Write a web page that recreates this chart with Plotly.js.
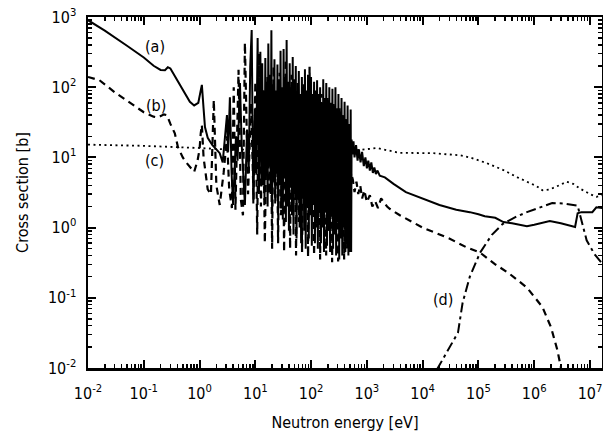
<!DOCTYPE html>
<html><head><meta charset="utf-8">
<script src="https://cdn.plot.ly/plotly-3.0.1.min.js"></script>
<style>html,body{margin:0;padding:0;background:#fff}#chart{width:603px;height:437px}</style>
</head><body><div id="chart"></div>
<script>
// (a) solid curve
var energyA = [0.01,0.02,0.05,0.1,0.15,0.2,0.24,0.27,0.3,0.35,0.45,0.6,0.67,0.8,0.95,1.05,1.1,1.18,1.25,1.4,1.7,2.0,2.3,
  2.6,2.9,3.1,3.25,3.5,3.75,4.0,4.5,4.8,5.3,5.7,6.5,7.1,7.6,8.1,8.6,9.2,9.8,10.3,11.0,11.6,12.3,12.9,
  13.3,13.7,14.2,14.6,15.1,15.6,16.1,16.6,17.1,17.7,18.2,18.8,19.4,20.0,20.7,21.3,22.0,22.7,23.4,24.2,
  24.9,25.7,26.6,27.4,28.3,29.2,30.1,31.1,32.1,33.1,34.2,35.3,36.4,37.6,38.8,40.0,41.3,42.6,44.0,45.4,
  46.8,48.3,49.9,51.5,53.1,54.8,56.6,58.4,60.2,62.2,64.2,66.2,68.3,70.5,72.8,75.1,77.5,80.0,82.6,85.2,
  87.9,90.8,93.7,96.6,99.7,103,106,110,113,117,120,124,128,132,137,141,145,150,155,160,165,170,176,181,
  187,193,199,206,212,219,226,233,241,248,256,264,273,281,290,300,309,319,329,340,351,362,374,386,398,
  411,424,437,451,466,481,496,512,522,
  532,550,575,600,640,680,720,770,820,880,940,1000,1060,1130,1200,1280,1360,1450,1550,1700,2100,3000,5000,
  1e4,2e4,4e4,5e4,7e4,1e5,1.3e5,2e5,2.8e5,4e5,7.4e5,1e6,1.9e6,3e6,5.4e6,6e6,7e6,1.1e7,1.3e7,1.7e7];
var sigmaA = [900,640,390,265,202,176,175,192,185,150,102,70,62,55,60,90,108,50,27,19,15,13,11.5,
  8.5,25,40,12,72,6,2.1,20,9,115,15,2.1,25,6,200,650,2.2,40,6,500,3,320,4,
  220,4,90,2.5,260,6,120,2,420,8,150,3,650,1.6,110,5,250,2.2,90,6,
  210,1.5,130,4,330,2,100,1.3,350,5,140,1.2,470,3,120,0.9,220,4,100,1.5,
  270,0.8,130,3,200,0.7,90,2.5,170,1,80,0.6,140,3,100,0.9,180,0.5,90,2,
  150,0.7,75,1.5,140,0.55,80,2.5,120,0.6,70,1.2,126,0.5,80,2,100,0.6,60,1,130,0.45,70,1.8,
  115,0.55,65,0.9,100,0.45,60,1.5,95,0.5,55,0.8,100,0.4,50,1.2,80,0.35,45,0.7,70,0.4,40,1,62,
  0.45,35,0.6,55,0.4,30,0.5,48,0.45,
  18,11,17,10,15,9,13,8.5,12,7.5,10,7,9,6.5,8.5,6,7.2,5.8,6.5,5.5,5.2,4.2,3.2,
  2.6,2.1,1.8,1.75,1.66,1.55,1.45,1.38,1.2,1.15,1.05,1.1,1.24,1.15,1.02,1.6,1.66,1.66,1.95,1.9];

// (b) dashed curve
var energyB = [0.01,0.016,0.03,0.05,0.1,0.15,0.18,0.23,0.26,0.3,0.36,0.41,0.5,0.59,0.8,0.92,1.0,1.05,1.1,1.18,1.3,1.4,
  1.6,1.8,2.0,2.3,2.7,3.1,3.4,3.8,4.1,4.4,5.0,5.5,6.0,6.5,7.4,8.4,9.3,
  10.0,10.8,11.6,12.6,13.7,14.8,16.5,17.6,18.8,20.0,21.2,22.6,24.0,25.6,27.2,29.0,30.8,32.8,34.9,37.1,39.5,42.0,
  44.6,47.5,50.5,53.7,57.1,60.8,64.7,68.8,73.2,77.9,82.9,88.2,93.8,99.8,106,113,120,128,136,145,154,164,175,186,
  198,211,224,238,254,270,287,305,325,345,367,391,416,442,470,500,
  520,560,600,650,700,760,820,900,1000,1130,1250,1400,1580,1800,2070,2300,2600,3900,
  1e4,3e4,6.2e4,1.07e5,2e5,3.6e5,7.4e5,1.4e6,2e6,2.6e6,3.1e6];
var sigmaB = [140,126,85,64,44,38,37,41,40,30,22,14,10,8.3,6.2,9,13,22,29,10,5,3.5,
  3,66,4,2.1,6,20,3.5,1.9,100,1.8,177,2.5,1.5,430,3.0,60,2.5,
  120,0.8,300,2,90,0.6,150,3,60,0.5,200,2.5,80,0.6,160,1.5,70,0.45,250,2,90,0.5,
  150,1.5,60,0.4,120,1.2,70,0.45,110,1.5,60,0.38,195,1.5,70,0.4,90,1,60,0.35,80,1.2,55,0.4,
  70,0.9,50,0.32,60,1,45,0.33,50,0.8,40,0.35,35,0.5,30,0.45,
  6,4.8,3.2,4.5,3.0,4.0,2.6,3.4,2.3,2.9,2.0,2.4,1.9,2.6,2.2,2.0,1.84,1.5,
  1.0,0.7,0.52,0.44,0.3,0.22,0.14,0.074,0.038,0.018,0.009];

// (c) dotted curve
var energyC = [0.01,0.1,1,3,10,30,100,300,520,690,1000,1500,3900,1.5e4,4.7e4,7e4,1.4e5,2.8e5,5e5,1.1e6,1.4e6,1.9e6,2.8e6,3.8e6,5e6,6.6e6,1e7,1.3e7,1.7e7];
var sigmaC = [15.2,14.6,13.6,13,12.8,12.6,12.5,12.6,13.5,12.7,13.2,13.6,11.6,11.5,10.7,10,8.3,6.6,5.2,3.9,3.4,3.5,4.0,4.5,4.2,3.6,3.0,2.75,2.9];

// (d) dash-dot curve
var energyD = [1.8e4,4.3e4,5.2e4,7e4,1.07e5,1.74e5,2.7e5,4.5e5,7.4e5,1.3e6,2.1e6,3.5e6,5.4e6,6e6,8.7e6,1.2e7,1.7e7];
var sigmaD = [0.0095,0.032,0.085,0.2,0.44,0.79,1.12,1.4,1.66,1.95,2.24,2.2,2.1,2.05,0.66,0.42,0.3];

var curveLabels = ['(a)','(b)','(c)','(d)'];
var xTickVals = [1e-2,1e-1,1,1e1,1e2,1e3,1e4,1e5,1e6,1e7];
var xTickText = ['10<sup>-2</sup>','10<sup>-1</sup>','10<sup>0</sup>','10<sup>1</sup>','10<sup>2</sup>','10<sup>3</sup>','10<sup>4</sup>','10<sup>5</sup>','10<sup>6</sup>','10<sup>7</sup>'];
var yTickVals = [1e-2,1e-1,1,1e1,1e2,1e3];
var yTickText = ['10<sup>-2</sup>','10<sup>-1</sup>','10<sup>0</sup>','10<sup>1</sup>','10<sup>2</sup>','10<sup>3</sup>'];

function minorVals(lo, hi){
  var v=[]; for(var n=lo;n<=hi;n++){ for(var k=2;k<=9;k++){ v.push(k*Math.pow(10,n)); } } return v;
}

var FONT = '"DejaVu Sans Condensed", "DejaVu Sans", Verdana, sans-serif';
var traces = [
  {x:energyA, y:sigmaA, mode:'lines', line:{color:'#000', width:2}},
  {x:energyB, y:sigmaB, mode:'lines', line:{color:'#000', width:2.2, dash:'7px,5px'}},
  {x:energyC, y:sigmaC, mode:'lines', line:{color:'#000', width:1.8, dash:'2px,3.5px'}},
  {x:energyD, y:sigmaD, mode:'lines', line:{color:'#000', width:2, dash:'10px,4px,3px,4px'}}
];

var axisCommon = {
  type:'log', showline:true, linecolor:'#000', linewidth:2.5, mirror:'allticks',
  ticks:'inside', ticklen:8, tickwidth:2, tickcolor:'#000', showgrid:false, zeroline:false,
  tickmode:'array', tickfont:{family:FONT, size:16, color:'#000'}
};
var layout = {
  width:603, height:437, paper_bgcolor:'#fff', plot_bgcolor:'#fff', showlegend:false,
  margin:{l:88, r:1, t:17, b:69},
  xaxis: Object.assign({}, axisCommon, {
    range:[-2, 7.215], tickvals:xTickVals, ticktext:xTickText, ticklabelstandoff:9,
    minor:{tickmode:'array', tickvals:minorVals(-2,7), ticks:'inside', ticklen:4, tickwidth:1.5, tickcolor:'#000'},
    title:{text:'Neutron energy [eV]', font:{family:FONT, size:16, color:'#000'}, standoff:15}
  }),
  yaxis: Object.assign({}, axisCommon, {
    range:[-2, 3], tickvals:yTickVals, ticktext:yTickText, ticklabelstandoff:6,
    minor:{tickmode:'array', tickvals:minorVals(-2,2), ticks:'inside', ticklen:4, tickwidth:1.5, tickcolor:'#000'},
    title:{text:'Cross section [b]', font:{family:FONT, size:16, color:'#000'}, standoff:16}
  }),
  annotations:[
    {x:-0.80, y:2.573, xref:'x', yref:'y', text:curveLabels[0], showarrow:false, font:{family:FONT, size:16, color:'#000'}},
    {x:-0.78, y:1.746, xref:'x', yref:'y', text:curveLabels[1], showarrow:false, font:{family:FONT, size:16, color:'#000'}},
    {x:-0.80, y:0.963, xref:'x', yref:'y', text:curveLabels[2], showarrow:false, font:{family:FONT, size:16, color:'#000'}},
    {x:4.36, y:-1.03, xref:'x', yref:'y', text:curveLabels[3], showarrow:false, font:{family:FONT, size:16, color:'#000'}}
  ]
};
Plotly.newPlot('chart', traces, layout, {staticPlot:true, displayModeBar:false});
</script></body></html>
